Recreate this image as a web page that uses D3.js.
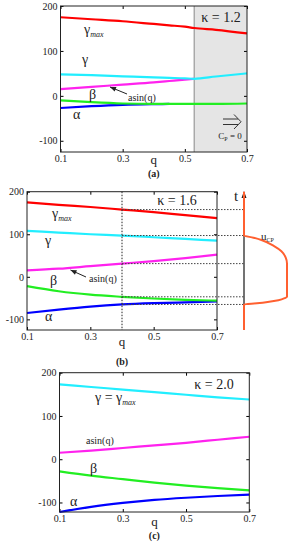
<!DOCTYPE html>
<html lang="en">
<head>
    <meta charset="UTF-8">
    <title>angles vs q</title>
    <script src="https://d3js.org/d3.v7.min.js"></script>
    <style>
        body { margin: 0; background: #fff; }
        text { font-family: "Liberation Serif", "DejaVu Serif", serif; fill: #222; }
    </style>
</head>
<body>

<svg width="292" height="550"></svg>

<script>

    // data (degrees)
    var qTicks = [0.1, 0.3, 0.5, 0.7];
    var yTicks = [-100, 0, 100, 200];

    // panel (a), kappa = 1.2  (C_P = 0 beyond q = 0.53)
    var qA = [0.1, 0.2, 0.3, 0.4, 0.45, 0.5, 0.53, 0.6, 0.7];
    var gmaxA = [175, 170.5, 166, 160, 157, 154, 151, 147, 139];
    var gammaA = [48, 46, 43.5, 41, 40, 39, 38, 43, 50];
    var asinA = [15, 20, 25, 30, 33, 36, 38, null, null];
    var betaA = [-10, -14, -17, -18, -18, -18, -18, -18, -17];
    var alphaA = [-27, -23, -20, -18.5, -18, null, null, null, null];
    var shadeFromA = 0.53;

    // panel (b), kappa = 1.6
    var qB = [0.1, 0.2, 0.3, 0.4, 0.5, 0.6, 0.7];
    var gmaxB = [175, 169, 164, 158, 152, 145, 138];
    var gammaB = [108, 104, 100, 97, 93, 89, 85];
    var asinB = [15, 19, 25, 31, 37, 44, 52];
    var betaB = [-22, -34, -42, -47, -51, -54, -56];
    var alphaB = [-85, -77, -70, -65, -62, -60, -58];
    var qCut = 0.4;

    // u_CP profile along t (normalised)
    var ucpT = [-125, -65, -62, -59, -55, -50, -47, 31, 45, 60, 72, 86, 92, 97, 200];
    var ucpU = [0, 0, 0.3, 0.55, 0.8, 0.95, 1, 1, 0.97, 0.87, 0.7, 0.42, 0.22, 0, 0];

    // panel (c), kappa = 2.0
    var qC = [0.1, 0.2, 0.3, 0.4, 0.5, 0.6, 0.7];
    var gammaC = [173, 167, 161, 155, 149, 143, 138];
    var asinC = [15, 20, 26, 32, 38, 45, 52];
    var betaC = [-28, -38, -46, -54, -61, -67, -72];
    var alphaC = [-122, -110, -101, -94, -89, -85, -82];

    var colors = {gmax: "#ff0000", gamma: "#22eeff", asin: "#ff22ee", beta: "#22ee22", alpha: "#0000ff"};

    var svg = d3.select("svg");

    //画一个面板
    function panel(cfg) {
        var x = d3.scaleLinear().domain([0.1, 0.7]).range([cfg.left, cfg.right]);
        var y = d3.scaleLinear().domain([cfg.yMin, 200]).range([cfg.bottom, cfg.top]);
        var g = svg.append("g");

        if (cfg.shadeFrom) {
            g.append("rect")
                .attr("x", x(cfg.shadeFrom)).attr("y", cfg.top)
                .attr("width", x(0.7) - x(cfg.shadeFrom)).attr("height", cfg.bottom - cfg.top)
                .attr("fill", "#e5e5e5");
            g.append("line")
                .attr("x1", x(cfg.shadeFrom)).attr("x2", x(cfg.shadeFrom))
                .attr("y1", cfg.top).attr("y2", cfg.bottom)
                .attr("stroke", "#888").attr("stroke-width", 1);
        }

        var fmt = function (d) { return String(d); };
        g.append("g").attr("transform", "translate(0," + cfg.bottom + ")")
            .call(d3.axisBottom(x).tickValues(qTicks).tickSize(-3).tickPadding(3).tickFormat(fmt));
        g.append("g").attr("transform", "translate(0," + cfg.top + ")")
            .call(d3.axisTop(x).tickValues(qTicks).tickSize(-3).tickFormat(""));
        g.append("g").attr("transform", "translate(" + cfg.left + ",0)")
            .call(d3.axisLeft(y).tickValues(yTicks).tickSize(-3).tickPadding(3).tickFormat(fmt));
        g.append("g").attr("transform", "translate(" + cfg.right + ",0)")
            .call(d3.axisRight(y).tickValues(yTicks).tickSize(-3).tickFormat(""));
        g.selectAll(".domain").remove();
        g.selectAll(".tick text").attr("font-size", 10).attr("fill", "#222");

        var line = d3.line()
            .defined(function (d) { return d[1] !== null; })
            .x(function (d) { return x(d[0]); })
            .y(function (d) { return y(d[1]); })
            .curve(d3.curveMonotoneX);

        cfg.series.forEach(function (s) {
            g.append("path")
                .datum(cfg.q.map(function (q, i) { return [q, s.values[i]]; }))
                .attr("d", line)
                .attr("fill", "none")
                .attr("stroke", s.color)
                .attr("stroke-width", 2.2);
        });

        g.append("rect")
            .attr("x", cfg.left).attr("y", cfg.top)
            .attr("width", cfg.right - cfg.left).attr("height", cfg.bottom - cfg.top)
            .attr("fill", "none").attr("stroke", "#222").attr("stroke-width", 1);

        g.append("text").attr("x", x(0.4)).attr("y", cfg.qY)
            .attr("text-anchor", "middle").attr("font-size", 13).text("q");
        g.append("text").attr("x", x(0.4)).attr("y", cfg.tagY)
            .attr("text-anchor", "middle").attr("font-size", 10).attr("font-weight", "bold").text(cfg.tag);

        return {g: g, x: x, y: y};
    }

    function label(g, px, py, main, sub, size) {
        var t = g.append("text").attr("x", px).attr("y", py).attr("font-size", size || 14);
        t.append("tspan").text(main);
        if (sub) {
            t.append("tspan").attr("font-size", 8).attr("font-style", "italic").attr("dy", 3).text(sub);
        }
        return t;
    }

    function arrow(g, x1, y1, x2, y2) {
        var a = Math.atan2(y2 - y1, x2 - x1);
        g.append("line").attr("x1", x1).attr("y1", y1).attr("x2", x2).attr("y2", y2)
            .attr("stroke", "#222").attr("stroke-width", 1);
        var h = 6, w = 2.5;
        var p = [[x2, y2],
            [x2 - h * Math.cos(a) + w * Math.sin(a), y2 - h * Math.sin(a) - w * Math.cos(a)],
            [x2 - h * Math.cos(a) - w * Math.sin(a), y2 - h * Math.sin(a) + w * Math.cos(a)]];
        g.append("path").attr("d", "M" + p.join("L") + "Z").attr("fill", "#222");
    }

    // (a)
    var pa = panel({
        left: 60.5, right: 247, top: 6, bottom: 152, yMin: -125, tag: "(a)", qY: 164, tagY: 177,
        q: qA, shadeFrom: shadeFromA,
        series: [
            {values: gmaxA, color: colors.gmax},
            {values: asinA, color: colors.asin},
            {values: gammaA, color: colors.gamma},
            {values: alphaA, color: colors.alpha},
            {values: betaA, color: colors.beta}
        ]
    });
    label(pa.g, 84, 34, "γ", "max");
    label(pa.g, 82, 64, "γ");
    label(pa.g, 89, 99, "β");
    label(pa.g, 73, 119, "α");
    label(pa.g, 128, 101, "asin(q)", null, 10);
    arrow(pa.g, 127, 94, 110, 87);
    pa.g.append("text").attr("x", 221).attr("y", 22).attr("text-anchor", "middle")
        .attr("font-size", 14).text("κ = 1.2");
    // 双线箭头
    pa.g.append("path").attr("d", "M223,119H238M223,124.5H238M234,114.5L241,121.75L234,129")
        .attr("fill", "none").attr("stroke", "#333").attr("stroke-width", 1);
    var cp = pa.g.append("text").attr("x", 230).attr("y", 139).attr("text-anchor", "middle").attr("font-size", 9);
    cp.append("tspan").text("C");
    cp.append("tspan").attr("font-size", 6).attr("dy", 1.5).text("P");
    cp.append("tspan").attr("dy", -1.5).text(" = 0");

    // (b)
    var pb = panel({
        left: 27, right: 217, top: 191.7, bottom: 330, yMin: -125, tag: "(b)", qY: 346, tagY: 365,
        q: qB,
        series: [
            {values: gmaxB, color: colors.gmax},
            {values: gammaB, color: colors.gamma},
            {values: asinB, color: colors.asin},
            {values: alphaB, color: colors.alpha},
            {values: betaB, color: colors.beta}
        ]
    });
    var tAxisX = 244;
    var iCut = qB.indexOf(qCut);
    pb.g.append("line")
        .attr("x1", pb.x(qCut)).attr("x2", pb.x(qCut)).attr("y1", 191.7).attr("y2", 330)
        .attr("stroke", "#222").attr("stroke-width", 1).attr("stroke-dasharray", "1.5,1.5");
    pb.g.selectAll(".cut")
        .data([gmaxB[iCut], gammaB[iCut], asinB[iCut], betaB[iCut], alphaB[iCut]])
        .enter()
        .append("line")
        .attr("x1", pb.x(qCut)).attr("x2", tAxisX)
        .attr("y1", function (d) { return pb.y(d); })
        .attr("y2", function (d) { return pb.y(d); })
        .attr("stroke", "#444").attr("stroke-width", 1).attr("stroke-dasharray", "1.5,1.5");

    // t 轴和 u_CP
    var u = d3.scaleLinear().domain([0, 1]).range([tAxisX, 287]);
    pb.g.append("line").attr("x1", tAxisX).attr("x2", tAxisX).attr("y1", 196).attr("y2", 330)
        .attr("stroke", "#444").attr("stroke-width", 1.5);
    pb.g.append("path").attr("d", "M" + tAxisX + ",191L" + (tAxisX - 2.5) + ",198L" + (tAxisX + 2.5) + ",198Z")
        .attr("fill", "#222");
    pb.g.append("path")
        .datum(ucpT.map(function (t, i) { return [ucpU[i], t]; }))
        .attr("d", d3.line()
            .x(function (d) { return u(d[0]); })
            .y(function (d) { return pb.y(d[1]); })
            .curve(d3.curveMonotoneY))
        .attr("fill", "none").attr("stroke", "#ff6030").attr("stroke-width", 2);
    label(pb.g, 234, 201, "t", null, 15);
    var ucp = pb.g.append("text").attr("x", 261).attr("y", 240).attr("font-size", 11);
    ucp.append("tspan").text("u");
    ucp.append("tspan").attr("font-size", 6).attr("dy", 2).text("CP");

    pb.g.append("text").attr("x", 177).attr("y", 205).attr("text-anchor", "middle")
        .attr("font-size", 14).text("κ = 1.6");
    label(pb.g, 52, 218, "γ", "max");
    label(pb.g, 45, 245, "γ");
    label(pb.g, 50, 285, "β");
    label(pb.g, 45, 321, "α");
    label(pb.g, 89, 282, "asin(q)", null, 10);
    arrow(pb.g, 86, 277, 70.5, 270);

    // (c)
    var pc = panel({
        left: 59.5, right: 249.3, top: 372.7, bottom: 512, yMin: -122, tag: "(c)", qY: 526, tagY: 539,
        q: qC,
        series: [
            {values: gammaC, color: colors.gamma},
            {values: asinC, color: colors.asin},
            {values: betaC, color: colors.beta},
            {values: alphaC, color: colors.alpha}
        ]
    });
    pc.g.append("text").attr("x", 214).attr("y", 389).attr("text-anchor", "middle")
        .attr("font-size", 14).text("κ = 2.0");
    var gg = label(pc.g, 95, 402, "γ = γ", null);
    gg.append("tspan").attr("font-size", 8).attr("font-style", "italic").attr("dy", 3).text("max");
    label(pc.g, 86, 444, "asin(q)", null, 10);
    label(pc.g, 90, 473, "β");
    label(pc.g, 70, 506, "α");

</script>

</body>
</html>
